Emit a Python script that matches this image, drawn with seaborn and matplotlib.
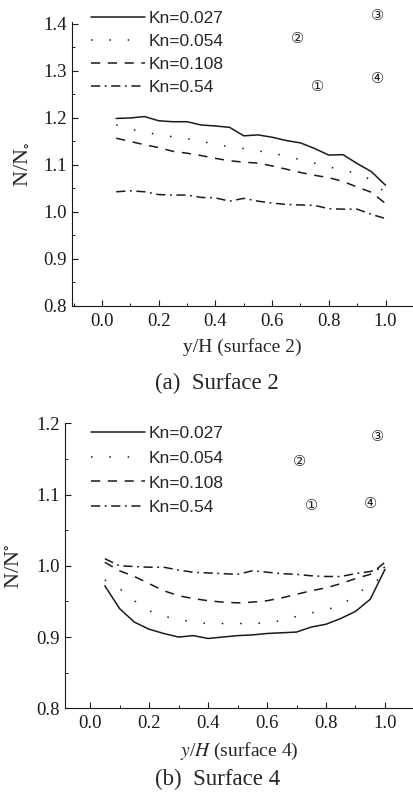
import numpy as np
import pandas as pd
import matplotlib
matplotlib.use("Agg")
import matplotlib.pyplot as plt
from matplotlib.ticker import MultipleLocator
import seaborn as sns

# =============================================
# Data
y_pos = [0.05, 0.10, 0.15, 0.20, 0.25, 0.30, 0.35, 0.40, 0.45, 0.50,
         0.55, 0.60, 0.65, 0.70, 0.75, 0.80, 0.85, 0.90, 0.95, 1.00]
kn_labels = ['Kn=0.027', 'Kn=0.054', 'Kn=0.108', 'Kn=0.54']

# surface 2
s2_kn0027 = [1.199, 1.200, 1.203, 1.194, 1.192, 1.192, 1.185, 1.183, 1.180, 1.162,
             1.164, 1.159, 1.152, 1.147, 1.135, 1.121, 1.122, 1.103, 1.086, 1.057]
s2_kn0054 = [1.185, 1.176, 1.170, 1.164, 1.160, 1.156, 1.151, 1.143, 1.139, 1.135,
             1.130, 1.125, 1.119, 1.111, 1.104, 1.096, 1.089, 1.082, 1.068, 1.040]
s2_kn0108 = [1.157, 1.150, 1.143, 1.137, 1.129, 1.125, 1.120, 1.114, 1.109, 1.106,
             1.104, 1.098, 1.091, 1.084, 1.078, 1.073, 1.065, 1.053, 1.042, 1.018]
s2_kn054 = [1.043, 1.045, 1.043, 1.037, 1.036, 1.036, 1.031, 1.030, 1.023, 1.029,
            1.023, 1.019, 1.016, 1.015, 1.014, 1.007, 1.006, 1.006, 0.995, 0.986]

# surface 4
s4_kn0027 = [0.972, 0.940, 0.921, 0.911, 0.905, 0.900, 0.902, 0.898, 0.900, 0.902,
             0.903, 0.905, 0.906, 0.907, 0.914, 0.918, 0.926, 0.936, 0.953, 0.995]
s4_kn0054 = [0.980, 0.968, 0.951, 0.937, 0.929, 0.925, 0.921, 0.919, 0.919, 0.919,
             0.919, 0.920, 0.923, 0.929, 0.934, 0.938, 0.945, 0.958, 0.975, 0.985]
s4_kn0108 = [1.005, 0.993, 0.985, 0.975, 0.965, 0.958, 0.954, 0.951, 0.949, 0.948,
             0.949, 0.951, 0.955, 0.960, 0.965, 0.969, 0.975, 0.982, 0.988, 1.005]
s4_kn054 = [1.010, 1.000, 0.999, 0.998, 0.998, 0.994, 0.991, 0.990, 0.989, 0.988,
            0.993, 0.991, 0.989, 0.988, 0.986, 0.985, 0.985, 0.989, 0.992, 0.998]

# circled location markers (label, x, y)
marks_s2 = [('\u2462', 0.97, 1.417), ('\u2461', 0.69, 1.370),
            ('\u2460', 0.76, 1.268), ('\u2463', 0.97, 1.285)]
marks_s4 = [('\u2462', 0.973, 1.181), ('\u2461', 0.71, 1.147),
            ('\u2460', 0.75, 1.085), ('\u2463', 0.95, 1.087)]

# =============================================
# Plotting parameters
sns.set_theme(style="ticks")
plt.rcParams['font.family'] = ['Liberation Serif', 'DejaVu Serif']
plt.rcParams['mathtext.fontset'] = 'stix'

dash_dict = {'Kn=0.027': '', 'Kn=0.054': (1.0, 11), 'Kn=0.108': (6, 5), 'Kn=0.54': (6, 3, 1.2, 3)}
tickFontSize = 13.5
labelFontSize = 14
captionFontSize = 16.5
legendFontSize = 12.5

W, H = 413, 795


def make_df(series):
    frames = []
    for lab, vals in zip(kn_labels, series):
        frames.append(pd.DataFrame({'y/H': y_pos, 'N/N0': vals, 'Kn': lab}))
    return pd.concat(frames, ignore_index=True)


def draw_panel(ax, df, ylim, xlim, xlabel, ylabel, caption, cap_x, cap_y, marks, leg_top, leg_sp):
    sns.lineplot(data=df, x='y/H', y='N/N0', style='Kn', style_order=kn_labels,
                 dashes=dash_dict, color='k', linewidth=1.1, errorbar=None, ax=ax)
    ax.set_xlim(xlim)
    ax.set_ylim(ylim)
    ax.xaxis.set_major_locator(MultipleLocator(0.2))
    ax.xaxis.set_minor_locator(MultipleLocator(0.1))
    ax.yaxis.set_major_locator(MultipleLocator(0.1))
    ax.yaxis.set_minor_locator(MultipleLocator(0.05))
    ax.set_xticks(np.arange(0, 1.01, 0.2))
    ax.set_xticklabels(['%.1f' % v for v in np.arange(0, 1.01, 0.2)])
    ax.tick_params(which='major', direction='in', length=4, width=0.8, labelsize=tickFontSize,
                   color='k', labelcolor='k')
    ax.tick_params(which='minor', direction='in', length=2.5, width=0.7, color='k')
    ax.tick_params(axis='y', pad=4)
    ax.tick_params(axis='x', pad=5)
    for s in ['top', 'right']:
        ax.spines[s].set_visible(False)
    for s in ['left', 'bottom']:
        ax.spines[s].set_linewidth(0.8)
        ax.spines[s].set_color('k')
    ax.set_xlabel(xlabel, fontsize=labelFontSize, labelpad=6)
    ax.set_ylabel(ylabel, fontsize=16, labelpad=8)
    ax.text(cap_x, cap_y, caption, transform=ax.transAxes, fontsize=captionFontSize,
            ha='center', va='center')

    for lab, mx, my in marks:
        ax.text(mx, my, lab, fontsize=10.5, ha='center', va='center',
                family=['DejaVu Sans', 'Noto Sans CJK JP'])

    handles, labels = ax.get_legend_handles_labels()
    ax.legend(handles=handles, labels=labels, loc='upper left',
              bbox_to_anchor=(91 / W, leg_top), bbox_transform=ax.figure.transFigure,
              frameon=False, handlelength=3.1, handletextpad=0.2,
              labelspacing=leg_sp, borderpad=0, borderaxespad=0,
              prop={'family': 'Liberation Sans', 'size': legendFontSize})


fig = plt.figure(figsize=(W / 100, H / 100), dpi=100)

ax1 = fig.add_axes([72 / W, 1 - 306 / H, 1 - 72 / W, (306 - 21.6) / H])
draw_panel(ax1, make_df([s2_kn0027, s2_kn0054, s2_kn0108, s2_kn054]),
           (0.8, 1.405), (-0.106, 1.097), 'y/H (surface 2)', 'N/N$_{\\circ}$',
           '(a)  Surface 2', 0.425, -0.272, marks_s2, 1 - 11 / H, 0.45)

ax2 = fig.add_axes([65 / W, 1 - 708.3 / H, 1 - 65 / W, (708.3 - 423.3) / H])
draw_panel(ax2, make_df([s4_kn0027, s4_kn0054, s4_kn0108, s4_kn054]),
           (0.8, 1.2), (-0.085, 1.095), '$y$/$H$ (surface 4)', 'N/N$^{\\circ}$',
           '(b)  Surface 4', 0.437, -0.25, marks_s4, 1 - 426 / H, 0.55)

fig.savefig('out.png', dpi=100)
